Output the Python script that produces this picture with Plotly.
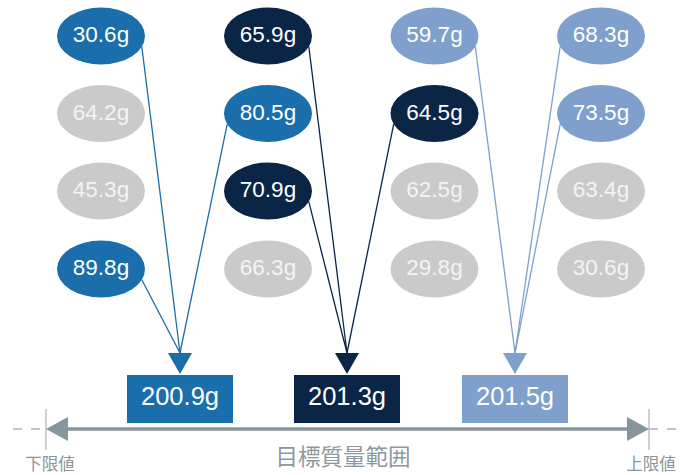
import math
import plotly.graph_objects as go

# ---------------- data ----------------
weights = [
    [30.6, 65.9, 59.7, 68.3],
    [64.2, 80.5, 64.5, 73.5],
    [45.3, 70.9, 62.5, 63.4],
    [89.8, 66.3, 29.8, 30.6],
]
# group index each item is assigned to (-1 = not chosen)
groups = [
    [0, 1, 2, 2],
    [-1, 0, 1, 2],
    [-1, 1, -1, -1],
    [0, -1, -1, -1],
]
totals = [200.9, 201.3, 201.5]
lower_label = "下限値"
upper_label = "上限値"
range_label = "目標質量範囲"

# ---------------- style / layout ----------------
W, H = 693, 475
group_colors = ["#1a6eab", "#0a2546", "#7fa0cc"]
gray = "#c9cac9"
axis_color = "#87959c"
col_x = [101, 268, 434.5, 601]
row_y = [36, 113.5, 191, 269]
ea, eb = 44, 28.5
box_x = [180, 347, 515]
box_y, box_w, box_h = 399, 106, 48
tri_top, tri_tip, tri_w = 353, 374, 24
axis_y = 429
font = "Liberation Sans, Arial, Helvetica, sans-serif"
cjk = "Noto Sans CJK JP, sans-serif"

fig = go.Figure()
shapes = []

# connector lines (drawn first, below ellipses)
theta = math.radians(22)
for r, row in enumerate(groups):
    for c, g in enumerate(row):
        if g < 0:
            continue
        cx, cy = col_x[c], row_y[r]
        tx = box_x[g]
        side = 1 if tx > cx else -1
        sx = cx + side * ea * math.cos(theta)
        sy = cy + eb * math.sin(theta)
        shapes.append(dict(type="line", x0=sx, y0=sy, x1=tx, y1=tri_top,
                           line=dict(color=group_colors[g], width=1.3), layer="below"))

# ellipses
for r, row in enumerate(groups):
    for c, g in enumerate(row):
        color = group_colors[g] if g >= 0 else gray
        cx, cy = col_x[c], row_y[r]
        shapes.append(dict(type="circle", x0=cx - ea, x1=cx + ea, y0=cy - eb, y1=cy + eb,
                           fillcolor=color, line=dict(width=0), layer="below"))

# arrowheads and boxes
for g, tx in enumerate(box_x):
    shapes.append(dict(type="path",
                       path=f"M {tx - tri_w/2} {tri_top} L {tx + tri_w/2} {tri_top} L {tx} {tri_tip} Z",
                       fillcolor=group_colors[g], line=dict(width=0), layer="below"))
    shapes.append(dict(type="rect", x0=tx - box_w/2, x1=tx + box_w/2,
                       y0=box_y - box_h/2, y1=box_y + box_h/2,
                       fillcolor=group_colors[g], line=dict(width=0), layer="below"))

# range axis
left_tip, right_tip = 46, 649
shapes += [
    dict(type="line", x0=13, x1=left_tip, y0=axis_y, y1=axis_y,
         line=dict(color="#a9b4b7", width=1.5, dash="dash"), layer="below"),
    dict(type="line", x0=right_tip, x1=682, y0=axis_y, y1=axis_y,
         line=dict(color="#a9b4b7", width=1.5, dash="dash"), layer="below"),
    dict(type="line", x0=left_tip, x1=left_tip, y0=409, y1=450,
         line=dict(color="#b9c2c5", width=1.5), layer="below"),
    dict(type="line", x0=right_tip, x1=right_tip, y0=409, y1=450,
         line=dict(color="#b9c2c5", width=1.5), layer="below"),
    dict(type="line", x0=left_tip + 20, x1=right_tip - 20, y0=axis_y, y1=axis_y,
         line=dict(color=axis_color, width=3.5), layer="below"),
    dict(type="path", path=f"M {left_tip} {axis_y} L {left_tip+22} {axis_y-12} L {left_tip+22} {axis_y+12} Z",
         fillcolor=axis_color, line=dict(width=0), layer="below"),
    dict(type="path", path=f"M {right_tip} {axis_y} L {right_tip-22} {axis_y-12} L {right_tip-22} {axis_y+12} Z",
         fillcolor=axis_color, line=dict(width=0), layer="below"),
]

# ellipse labels
tx_, ty_, tt_, tc_ = [], [], [], []
for r, row in enumerate(weights):
    for c, v in enumerate(row):
        tx_.append(col_x[c]); ty_.append(row_y[r] + 0.5); tt_.append(f"{v:.1f}g")
        tc_.append("#ffffff" if groups[r][c] >= 0 else "#f4f4f4")
fig.add_trace(go.Scatter(x=tx_, y=ty_, text=tt_, mode="text",
                         textfont=dict(family=font, size=22.5, color=tc_),
                         hoverinfo="skip", showlegend=False))
fig.add_trace(go.Scatter(x=box_x, y=[box_y] * len(box_x), text=[f"{t:.1f}g" for t in totals],
                         mode="text", textfont=dict(family=font, size=25.5, color="#ffffff"),
                         hoverinfo="skip", showlegend=False))
fig.add_trace(go.Scatter(x=[50, 651], y=[465.5, 465.5], text=[lower_label, upper_label], mode="text",
                         textfont=dict(family=cjk, size=16.5, color="#8a969b"),
                         hoverinfo="skip", showlegend=False))
fig.add_trace(go.Scatter(x=[343], y=[459], text=[range_label], mode="text",
                         textfont=dict(family=cjk, size=22.5, color="#8c999e"),
                         hoverinfo="skip", showlegend=False))

fig.update_layout(
    width=W, height=H, margin=dict(l=0, r=0, t=0, b=0),
    paper_bgcolor="white", plot_bgcolor="white",
    shapes=shapes,
    xaxis=dict(range=[0, W], visible=False, fixedrange=True),
    yaxis=dict(range=[H, 0], visible=False, fixedrange=True),
)
fig.write_html("out.html", config={"displayModeBar": False, "staticPlot": True},
               post_script="document.body.style.margin='0';document.body.style.overflow='hidden';")
